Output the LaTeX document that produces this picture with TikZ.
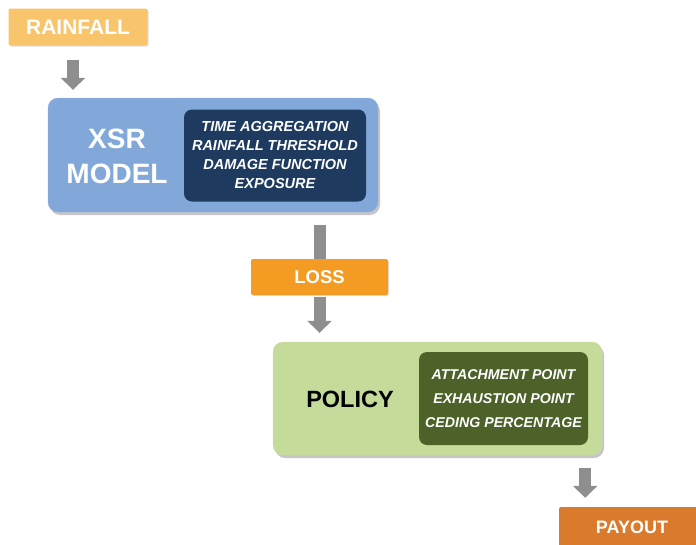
\documentclass[tikz,border=0pt]{standalone}
\usepackage{fontspec}
\setmainfont{Liberation Sans}
\usetikzlibrary{arrows.meta,shadows,backgrounds}

\definecolor{rainorange}{HTML}{F8C46C}
\definecolor{lossorange}{HTML}{F39B22}
\definecolor{payorange}{HTML}{D97A2C}
\definecolor{modelblue}{HTML}{82A8DA}
\definecolor{modeldark}{HTML}{1E3B5F}
\definecolor{policygreen}{HTML}{C4DB9A}
\definecolor{policydark}{HTML}{4C6229}
\definecolor{flowgray}{HTML}{8E8E8E}

\begin{document}
\begin{tikzpicture} [
        x=1pt, y=-1pt,
        tag/.style={rectangle,rounded corners=2pt,inner sep=0pt,text=white,
            drop shadow={shadow xshift=1pt,shadow yshift=-1pt,opacity=.25},
            font=\fontsize{#1}{#1}\selectfont\bfseries},
        stage/.style={rectangle,rounded corners=10pt,inner sep=0pt,
            drop shadow={shadow xshift=2pt,shadow yshift=-3pt,opacity=.45}},
        params/.style={rectangle,rounded corners=8pt,inner sep=0pt,align=center,text=white},
        flow/.style={draw=flowgray,line width=12pt,-{Triangle[width=24pt,length=12pt]}},
        shaft/.style={draw=flowgray,line width=12pt},
    ]
    \useasboundingbox (0,0) rectangle (696,544);

    % model stage
    \node[stage,fill=modelblue,draw=modelblue!85!white,minimum width=330pt,minimum height=114pt]
        (model) at (213,155) {};
    \node[params,fill=modeldark,minimum width=182pt,minimum height=92pt,
          font=\fontsize{14.5}{19}\selectfont\bfseries\itshape]
        (modelpar) at (275,155.5) {TIME AGGREGATION\\RAINFALL THRESHOLD\\DAMAGE FUNCTION\\EXPOSURE};
    \node[align=center,text=white,font=\fontsize{28}{35}\selectfont\bfseries]
        (modelname) at (117,156) {XSR\\MODEL};

    % policy stage
    \node[stage,fill=policygreen,draw=policygreen!85!white,minimum width=329pt,minimum height=113pt]
        (policy) at (437.5,398.5) {};
    \node[params,fill=policydark,minimum width=169pt,minimum height=93pt,
          font=\fontsize{14.2}{24}\selectfont\bfseries\itshape]
        (policypar) at (503.5,398.5) {ATTACHMENT POINT\\EXHAUSTION POINT\\CEDING PERCENTAGE};
    \node[font=\fontsize{23.5}{23.5}\selectfont\bfseries] (policyname) at (350,399) {POLICY};

    % small tags
    \node[tag=21,fill=rainorange,minimum width=139pt,minimum height=37pt] (rain) at (78,27) {RAINFALL};
    \node[tag=18.5,fill=lossorange,minimum width=137pt,minimum height=36pt] (loss) at (319.5,277) {LOSS};
    \node[tag=18,fill=payorange,minimum width=150pt,minimum height=40pt] (payout) at (634,527) {\hspace*{-4pt}PAYOUT};

    % model to loss: shaft goes behind the tag
    \begin{pgfonlayer}{background}
        \path[shaft,shorten <=13pt] (loss.north |- model.south) -- (loss.center);
    \end{pgfonlayer}

    \path[flow,shorten <=14pt,shorten >=8pt] ([xshift=-5pt]rain.south) -- ([xshift=-5pt]rain.south |- model.north);
    \path[flow,shorten <=2pt,shorten >=9pt] (loss.south) -- (loss.south |- policy.north);
    \path[flow,shorten <=13pt,shorten >=9pt] ([xshift=-17pt]policy.south east) -- ([xshift=-17pt]policy.south east |- payout.north);
\end{tikzpicture}
\end{document}
